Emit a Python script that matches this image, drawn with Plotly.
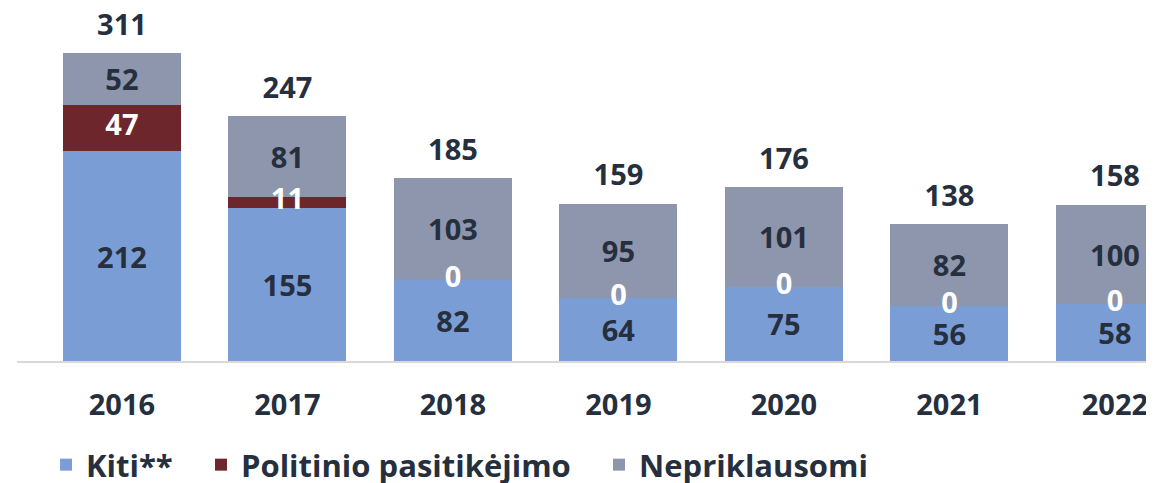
import plotly.graph_objects as go

years = ["2016", "2017", "2018", "2019", "2020", "2021", "2022"]
kiti = [212, 155, 82, 64, 75, 56, 58]
politinio = [47, 11, 0, 0, 0, 0, 0]
nepriklausomi = [52, 81, 103, 95, 101, 82, 100]
totals = [k + p + n for k, p, n in zip(kiti, politinio, nepriklausomi)]

series_names = ["Kiti**", "Politinio pasitikėjimo", "Nepriklausomi"]
colors = ["#7b9dd5", "#6d262b", "#8e96ad"]
dark = "#262f3e"
FONT = "Open Sans"
FS = 29
LFS = 31

fig = go.Figure()
fig.add_trace(go.Bar(
    x=years, y=kiti, name=series_names[0], marker_color=colors[0],
    marker_line_width=0, text=[str(v) for v in kiti], textposition="inside",
    insidetextanchor="middle", textangle=0,
    textfont=dict(family=FONT, size=FS, color=dark, weight="bold"),
    legend="legend", cliponaxis=False,
))
fig.add_trace(go.Bar(
    x=years, y=politinio, name=series_names[1], marker_color=colors[1],
    marker_line_width=0, legend="legend2", cliponaxis=False,
))
fig.add_trace(go.Bar(
    x=years, y=nepriklausomi, name=series_names[2], marker_color=colors[2],
    marker_line_width=0, text=[str(v) for v in nepriklausomi], textposition="inside",
    insidetextanchor="middle", textangle=0,
    textfont=dict(family=FONT, size=FS, color=dark, weight="bold"),
    legend="legend3", cliponaxis=False,
))
# red segment labels (white), centred on the segment
fig.add_trace(go.Scatter(
    x=years, y=[k + p / 2 for k, p in zip(kiti, politinio)],
    mode="text", text=[str(p) for p in politinio], textposition="middle center",
    textfont=dict(family=FONT, size=FS, color="white", weight="bold"),
    showlegend=False, hoverinfo="skip", cliponaxis=False,
))
# totals above bars (invisible marker sets the gap above the bar)
fig.add_trace(go.Scatter(
    x=years, y=totals,
    mode="markers+text", text=[str(t) for t in totals], textposition="top center",
    marker=dict(size=16, opacity=0),
    textfont=dict(family=FONT, size=FS, color=dark, weight="bold"),
    showlegend=False, hoverinfo="skip", cliponaxis=False,
))

W, H = 1146, 475
def leg(xfig):
    return dict(
        orientation="h", xref="container", yref="container",
        x=xfig / W, y=1 - 457 / H, xanchor="left", yanchor="middle",
        font=dict(family=FONT, size=LFS, color=dark, weight="bold"),
        bgcolor="rgba(0,0,0,0)", borderwidth=0, itemwidth=30,
        tracegroupgap=0,
    )

fig.update_layout(
    width=W, height=H,
    barmode="stack", bargap=0.287,
    plot_bgcolor="white", paper_bgcolor="white",
    margin=dict(l=9, r=0, t=0, b=122, autoexpand=False),
    xaxis=dict(
        type="category", range=[-0.634, 6.236], showgrid=False,
        showline=True, linecolor="#d9d9d9", linewidth=2,
        ticks="", ticklabelstandoff=17, automargin=False,
        tickfont=dict(family=FONT, size=FS, color=dark, weight="bold"),
    ),
    yaxis=dict(range=[0, 356.6], visible=False, showgrid=False, automargin=False),
    uniformtext=dict(minsize=FS, mode="show"),
    legend=leg(38), legend2=leg(193), legend3=leg(591),
    showlegend=True,
)

fig.write_html("out.html")
